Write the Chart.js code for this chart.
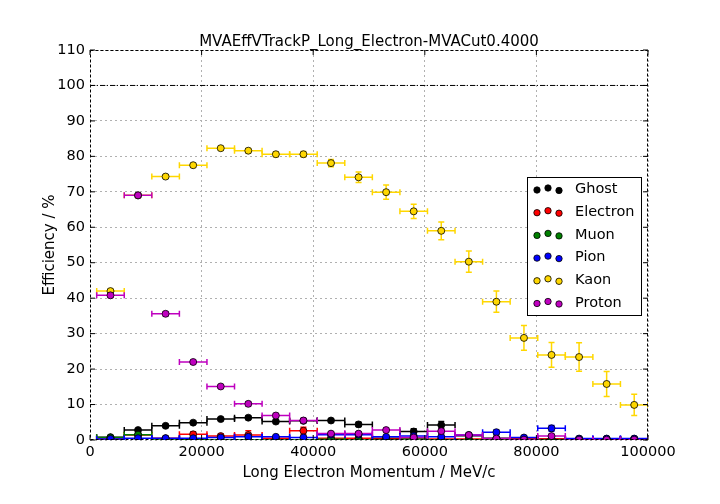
<!DOCTYPE html>
<html>
<head>
<meta charset="utf-8">
<script src="https://cdn.jsdelivr.net/npm/chart.js@4.4.1/dist/chart.umd.min.js"></script>
<style>
html,body{margin:0;padding:0;background:#fff;}
#wrap{width:720px;height:504px;}
</style>
</head>
<body>
<div id="wrap"><canvas id="c" width="720" height="504"></canvas></div>
<script>
const TITLE = "MVAEffVTrackP_Long_Electron-MVACut0.4000";
const X_LABEL = "Long Electron Momentum / MeV/c";
const Y_LABEL = "Efficiency / %";
const binCenters = [3670,8610,13550,18490,23430,28370,33310,38250,43190,48130,53070,58010,62950,67890,72830,77770,82710,87650,92590,97530];
const binHalfWidth = 2470;
const xTicks = [0,20000,40000,60000,80000,100000];
const yTicks = [0,10,20,30,40,50,60,70,80,90,100,110];

const seriesNames = ["Ghost","Electron","Muon","Pion","Kaon","Proton"];
const ghost    = [0.8,2.8,4.0,4.9,5.9,6.3,5.2,5.4,5.5,4.4,0.5,2.4,4.2,1.2,0.5,0.3,0.3,0.3,0.3,0.3];
const ghostErr = [0.3,0.4,0.3,0.3,0.3,0.4,0.4,0.4,0.5,0.6,0.5,0.8,1.0,0.5,0.5,0.3,0.3,0.3,0.3,0.3];
const electron    = [0.3,1.4,0.5,1.6,1.1,1.4,0.5,2.6,0.5,0.5,0.3,0.5,0.3,0.3,0.3,0.3,0.3,0.3,0.3,0.3];
const electronErr = [0.3,0.5,0.5,0.7,0.6,1.2,0.6,1.0,0.5,0.5,0.5,0.6,0.5,0.5,0.5,0.5,0.5,0.5,0.5,0.5];
const muon    = [0.7,1.5,0,0.2,0,0,0,0,0.2,0,0,0.3,0,0,0,0,0,0,0,0];
const muonErr = [0.2,0.3,0.1,0.2,0.1,0.1,0.1,0.1,0.2,0.1,0.1,0.2,0.1,0.1,0.1,0.1,0.1,0.1,0.1,0.1];
const pion    = [0.3,0.5,0.5,0.5,0.7,0.9,0.9,0.7,1.5,1.5,0.9,1.1,0.9,1.4,2.2,0.7,3.3,0.4,0.4,0.4];
const pionErr = [0.2,0.3,0.2,0.2,0.2,0.3,0.3,0.3,0.4,0.4,0.4,0.4,0.4,0.5,0.6,0.4,0.8,0.3,0.3,0.3];
const kaon    = [42.0,69.0,74.3,77.5,82.3,81.6,80.6,80.6,78.1,74.1,69.9,64.5,59.0,50.3,39.0,28.8,24.0,23.4,15.8,9.9];
const kaonErr = [0.6,0.6,0.5,0.5,0.5,0.6,0.7,0.8,1.0,1.5,2.0,2.0,2.5,3.0,3.0,3.5,3.5,4.0,3.5,3.0];
const proton    = [40.8,69.0,35.6,22.0,15.1,10.2,6.9,5.5,1.8,1.8,2.8,0.7,2.5,1.4,0.4,0.1,1.1,0.1,0.1,0.1];
const protonErr = [0.6,0.6,0.6,0.5,0.5,0.6,0.6,0.6,0.5,0.5,0.6,0.5,0.6,0.5,0.4,0.3,0.5,0.3,0.3,0.3];

const seriesColors = ["#000000","#ff0000","#008000","#0000ff","#ffd700","#bf00bf"];
const seriesValues = [ghost,electron,muon,pion,kaon,proton];
const seriesErrors = [ghostErr,electronErr,muonErr,pionErr,kaonErr,protonErr];

const FONT = "'DejaVu Sans',sans-serif";

const datasets = seriesNames.map((name,i)=>({
  label: name,
  data: binCenters.map((x,j)=>({x:x,y:seriesValues[i][j]})),
  errY: seriesErrors[i],
  backgroundColor: seriesColors[i],
  borderColor: "#000000",
  borderWidth: 0.8,
  pointRadius: 3.5,
  pointHoverRadius: 3.5,
  showLine: false,
  order: seriesNames.length - i
}));

const errorBars = {
  id: 'errorBars',
  beforeDatasetsDraw(chart){
    const ctx = chart.ctx, xs = chart.scales.x, ys = chart.scales.y, a = chart.chartArea;
    ctx.save();
    ctx.beginPath(); ctx.rect(a.left, a.top, a.right-a.left, a.bottom-a.top); ctx.clip();
    ctx.strokeStyle = "#000"; ctx.lineWidth = 1; ctx.setLineDash([5,2,1,2]);
    const y100 = ys.getPixelForValue(100);
    ctx.beginPath(); ctx.moveTo(a.left,y100); ctx.lineTo(a.right,y100); ctx.stroke();
    ctx.setLineDash([]);
    chart.data.datasets.forEach((ds,i)=>{
      ctx.strokeStyle = seriesColors[i]; ctx.lineWidth = 1.5;
      ds.data.forEach((p,j)=>{
        const px = xs.getPixelForValue(p.x), py = ys.getPixelForValue(p.y);
        const x0 = xs.getPixelForValue(p.x-binHalfWidth), x1 = xs.getPixelForValue(p.x+binHalfWidth);
        const e = ds.errY[j];
        const yLo = ys.getPixelForValue(p.y-e), yHi = ys.getPixelForValue(p.y+e);
        ctx.beginPath();
        ctx.moveTo(x0,py); ctx.lineTo(x1,py);
        ctx.moveTo(x0,py-3); ctx.lineTo(x0,py+3);
        ctx.moveTo(x1,py-3); ctx.lineTo(x1,py+3);
        ctx.moveTo(px,yLo); ctx.lineTo(px,yHi);
        ctx.moveTo(px-3,yLo); ctx.lineTo(px+3,yLo);
        ctx.moveTo(px-3,yHi); ctx.lineTo(px+3,yHi);
        ctx.stroke();
      });
    });
    ctx.restore();
  },
  afterDraw(chart){
    const ctx = chart.ctx, xs = chart.scales.x, ys = chart.scales.y, a = chart.chartArea;
    ctx.save();
    ctx.strokeStyle = "#000"; ctx.lineWidth = 1; ctx.setLineDash([3,2]);
    ctx.strokeRect(a.left+0.5, a.top+0.5, a.right-a.left-1, a.bottom-a.top-1);
    ctx.setLineDash([]);
    ctx.beginPath();
    xTicks.forEach(v=>{const x = xs.getPixelForValue(v); ctx.moveTo(x,a.bottom); ctx.lineTo(x,a.bottom-5); ctx.moveTo(x,a.top); ctx.lineTo(x,a.top+5);});
    yTicks.forEach(v=>{const y = ys.getPixelForValue(v); ctx.moveTo(a.left,y); ctx.lineTo(a.left+5,y); ctx.moveTo(a.right,y); ctx.lineTo(a.right-5,y);});
    ctx.stroke();
    ctx.fillStyle = "#000";
    ctx.textAlign = "center"; ctx.textBaseline = "alphabetic";
    const cx = (a.left+a.right)/2;
    ctx.font = "15px " + FONT;
    ctx.fillText(TITLE, cx, a.top-4);
    ctx.fillText(X_LABEL, cx, 477);
    ctx.save(); ctx.translate(54, (a.top+a.bottom)/2); ctx.rotate(-Math.PI/2);
    ctx.fillText(Y_LABEL, 0, 0); ctx.restore();
    const lx = 527, ly = 177, lw = 114, lh = 138;
    ctx.fillStyle = "#fff"; ctx.fillRect(lx,ly,lw,lh);
    ctx.strokeStyle = "#000"; ctx.lineWidth = 1; ctx.strokeRect(lx+0.5,ly+0.5,lw,lh);
    ctx.textAlign = "left"; ctx.textBaseline = "middle"; ctx.font = "14.5px " + FONT;
    const offs = [0.5,-1.5,1];
    seriesNames.forEach((n,i)=>{
      const yy = 189.5 + i*22.7;
      [537,548,559].forEach((dx,k)=>{
        ctx.beginPath(); ctx.arc(dx, yy+offs[k], 3.2, 0, 2*Math.PI);
        ctx.fillStyle = seriesColors[i]; ctx.fill();
        ctx.strokeStyle = "#000"; ctx.lineWidth = 0.8; ctx.stroke();
      });
      ctx.fillStyle = "#000";
      ctx.fillText(n, 575, yy);
    });
    ctx.restore();
  }
};

new Chart(document.getElementById('c'), {
  type: 'scatter',
  data: { datasets },
  options: {
    responsive: false,
    animation: false,
    devicePixelRatio: 1,
    layout: { padding: { top: 50, right: 72, left: 0, bottom: 0 } },
    plugins: { legend: { display: false }, tooltip: { enabled: false }, title: { display: false } },
    scales: {
      x: {
        type: 'linear', min: 0, max: 100000,
        afterFit: s => { s.height = 64; },
        afterBuildTicks: s => { s.ticks = xTicks.map(v=>({value:v})); },
        ticks: { color: "#000", font: { family: FONT, size: 14.5 }, padding: 4, maxRotation: 0, callback: v => String(v) },
        grid: { color: "#b0b0b0", lineWidth: 1, drawTicks: false },
        border: { display: false, dash: [2,3] }
      },
      y: {
        type: 'linear', min: 0, max: 110,
        afterFit: s => { s.width = 90; },
        afterBuildTicks: s => { s.ticks = yTicks.map(v=>({value:v})); },
        ticks: { color: "#000", font: { family: FONT, size: 14.5 }, padding: 5, callback: v => String(v) },
        grid: { color: "#b0b0b0", lineWidth: 1, drawTicks: false },
        border: { display: false, dash: [2,3] }
      }
    }
  },
  plugins: [errorBars]
});
</script>
</body>
</html>
